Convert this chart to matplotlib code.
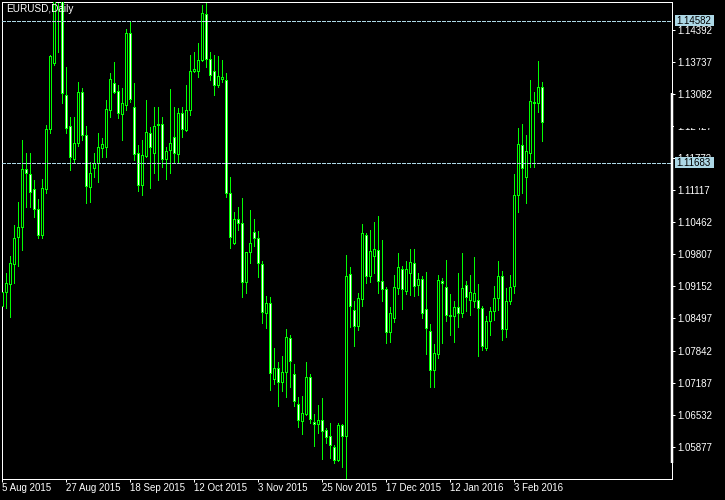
import matplotlib
matplotlib.use("Agg")
import matplotlib.pyplot as plt
from matplotlib.patches import Rectangle
from matplotlib.transforms import blended_transform_factory

# ---------------- data (EURUSD daily) ----------------
opens = [
    1.0875, 1.0904, 1.0920, 1.0961, 1.1016, 1.1036, 1.1155, 1.1145, 1.1114, 1.1073,
    1.1020, 1.1114, 1.1237, 1.1371, 1.1616, 1.1517, 1.1306, 1.1243, 1.1175, 1.1208,
    1.1312, 1.1224, 1.1118, 1.1157, 1.1167, 1.1198, 1.1200, 1.1275, 1.1330, 1.1314,
    1.1267, 1.1286, 1.1433, 1.1281, 1.1188, 1.1122, 1.1182, 1.1228, 1.1188, 1.1245,
    1.1247, 1.1175, 1.1194, 1.1220, 1.1186, 1.1269, 1.1235, 1.1275, 1.1355, 1.1355,
    1.1377, 1.1471, 1.1380, 1.1355, 1.1326, 1.1339, 1.1337, 1.1106, 1.1004, 1.1053,
    1.1045, 1.0925, 1.0985, 1.1026, 1.1014, 1.0961, 1.0861, 1.0881, 1.0726, 1.0749,
    1.0720, 1.0740, 1.0810, 1.0736, 1.0675, 1.0640, 1.0655, 1.0730, 1.0638, 1.0634,
    1.0642, 1.0622, 1.0610, 1.0587, 1.0561, 1.0632, 1.0610, 1.0941, 1.0867, 1.0834,
    1.0889, 1.1020, 1.0936, 1.0977, 1.0989, 1.0926, 1.0910, 1.0822, 1.0851, 1.0912,
    1.0951, 1.0906, 1.0943, 1.0963, 1.0918, 1.0930, 1.0869, 1.0824, 1.0744, 1.0777,
    1.0926, 1.0914, 1.0857, 1.0855, 1.0873, 1.0861, 1.0918, 1.0887, 1.0886, 1.0887,
    1.0871, 1.0790, 1.0845, 1.0865, 1.0892, 1.0937, 1.0828, 1.0885, 1.0916, 1.1102,
    1.1204, 1.1139, 1.1188, 1.1292, 1.1290, 1.1322,
]
highs = [
    1.0908, 1.0943, 1.0977, 1.1041, 1.1088, 1.1214, 1.1188, 1.1188, 1.1132, 1.1094,
    1.1134, 1.1245, 1.1388, 1.1714, 1.1650, 1.1560, 1.1363, 1.1261, 1.1261, 1.1333,
    1.1320, 1.1243, 1.1169, 1.1188, 1.1228, 1.1218, 1.1296, 1.1351, 1.1373, 1.1326,
    1.1320, 1.1441, 1.1457, 1.1330, 1.1204, 1.1214, 1.1296, 1.1241, 1.1281, 1.1281,
    1.1261, 1.1200, 1.1318, 1.1281, 1.1279, 1.1281, 1.1326, 1.1388, 1.1394, 1.1412,
    1.1490, 1.1494, 1.1394, 1.1388, 1.1386, 1.1377, 1.1351, 1.1139, 1.1067, 1.1077,
    1.1096, 1.0985, 1.1071, 1.1053, 1.1028, 1.0967, 1.0896, 1.0894, 1.0789, 1.0761,
    1.0773, 1.0828, 1.0816, 1.0757, 1.0689, 1.0691, 1.0761, 1.0736, 1.0655, 1.0673,
    1.0687, 1.0626, 1.0636, 1.0591, 1.0636, 1.0634, 1.0979, 1.0955, 1.0885, 1.0902,
    1.1043, 1.1024, 1.1030, 1.1047, 1.1059, 1.1010, 1.0914, 1.0873, 1.0938, 1.0983,
    1.0957, 1.0967, 1.0992, 1.0992, 1.0943, 1.0936, 1.0945, 1.0838, 1.0798, 1.0939,
    1.0932, 1.0969, 1.0900, 1.0885, 1.0943, 1.0983, 1.0926, 1.0939, 1.0975, 1.0920,
    1.0875, 1.0855, 1.0873, 1.0916, 1.0967, 1.0947, 1.0912, 1.0939, 1.1145, 1.1239,
    1.1247, 1.1224, 1.1337, 1.1312, 1.1375, 1.1333,
]
lows = [
    1.0871, 1.0871, 1.0853, 1.0922, 1.0957, 1.0990, 1.1077, 1.1077, 1.1057, 1.1014,
    1.1014, 1.1106, 1.1228, 1.1367, 1.1395, 1.1290, 1.1228, 1.1153, 1.1167, 1.1202,
    1.1214, 1.1085, 1.1088, 1.1139, 1.1128, 1.1179, 1.1179, 1.1261, 1.1311, 1.1259,
    1.1214, 1.1275, 1.1292, 1.1173, 1.1110, 1.1102, 1.1180, 1.1116, 1.1147, 1.1132,
    1.1159, 1.1134, 1.1147, 1.1169, 1.1169, 1.1220, 1.1233, 1.1265, 1.1353, 1.1343,
    1.1375, 1.1363, 1.1337, 1.1306, 1.1322, 1.1333, 1.1098, 1.0994, 1.1002, 1.1030,
    1.0894, 1.0902, 1.0963, 1.0998, 1.0934, 1.0840, 1.0830, 1.0704, 1.0716, 1.0671,
    1.0702, 1.0689, 1.0710, 1.0671, 1.0628, 1.0614, 1.0653, 1.0636, 1.0589, 1.0616,
    1.0563, 1.0595, 1.0565, 1.0555, 1.0559, 1.0546, 1.0524, 1.0832, 1.0793, 1.0826,
    1.0875, 1.0922, 1.0924, 1.0943, 1.0902, 1.0885, 1.0800, 1.0802, 1.0843, 1.0900,
    1.0869, 1.0900, 1.0898, 1.0896, 1.0898, 1.0851, 1.0777, 1.0710, 1.0710, 1.0769,
    1.0800, 1.0845, 1.0816, 1.0802, 1.0832, 1.0853, 1.0865, 1.0857, 1.0873, 1.0773,
    1.0785, 1.0785, 1.0816, 1.0847, 1.0867, 1.0806, 1.0812, 1.0879, 1.0902, 1.1067,
    1.1106, 1.1085, 1.1159, 1.1159, 1.1271, 1.1212,
]
closes = [
    1.0904, 1.0922, 1.0963, 1.1014, 1.1036, 1.1155, 1.1147, 1.1108, 1.1073, 1.1020,
    1.1116, 1.1237, 1.1386, 1.1616, 1.1517, 1.1311, 1.1239, 1.1179, 1.1208, 1.1312,
    1.1224, 1.1120, 1.1147, 1.1167, 1.1200, 1.1206, 1.1277, 1.1339, 1.1313, 1.1269,
    1.1290, 1.1433, 1.1298, 1.1186, 1.1122, 1.1184, 1.1231, 1.1200, 1.1243, 1.1247,
    1.1175, 1.1192, 1.1208, 1.1188, 1.1269, 1.1237, 1.1275, 1.1355, 1.1359, 1.1377,
    1.1473, 1.1379, 1.1347, 1.1326, 1.1345, 1.1343, 1.1106, 1.1016, 1.1053, 1.1045,
    1.0924, 1.0985, 1.1004, 1.1014, 1.0963, 1.0863, 1.0881, 1.0738, 1.0749, 1.0720,
    1.0740, 1.0812, 1.0763, 1.0681, 1.0642, 1.0657, 1.0730, 1.0644, 1.0634, 1.0642,
    1.0620, 1.0608, 1.0591, 1.0561, 1.0632, 1.0610, 1.0937, 1.0875, 1.0834, 1.0891,
    1.1024, 1.0936, 1.0987, 1.0992, 1.0927, 1.0910, 1.0822, 1.0861, 1.0914, 1.0955,
    1.0910, 1.0951, 1.0965, 1.0916, 1.0930, 1.0861, 1.0830, 1.0744, 1.0779, 1.0928,
    1.0922, 1.0857, 1.0855, 1.0873, 1.0861, 1.0912, 1.0894, 1.0904, 1.0902, 1.0871,
    1.0794, 1.0845, 1.0865, 1.0892, 1.0937, 1.0828, 1.0885, 1.0914, 1.1102, 1.1206,
    1.1157, 1.1192, 1.1294, 1.1289, 1.1322, 1.1251,
]

date_tick_index = [0, 16, 32, 48, 64, 80, 96, 112, 128]
date_tick_labels = ["5 Aug 2015", "27 Aug 2015", "18 Sep 2015", "12 Oct 2015",
                    "3 Nov 2015", "25 Nov 2015", "17 Dec 2015", "12 Jan 2016",
                    "3 Feb 2016"]
price_ticks = [1.05877, 1.06532, 1.07187, 1.07842, 1.08497, 1.09152, 1.09807,
               1.10462, 1.11117, 1.11772, 1.12427, 1.13082, 1.13737, 1.14392]
price_lines = [1.14582, 1.11683]
title = "EURUSD,Daily"

# ---------------- styling ----------------
W, H = 725, 500
PX = 72.0 / 100.0           # one pixel in points
GREEN = "#00ff00"
LBLUE = "#add8e6"
FONT = "Liberation Sans"
plt.rcParams["lines.scale_dashes"] = False

fig = plt.figure(figsize=(W / 100, H / 100), dpi=100, facecolor="black")
ax = fig.add_axes([2 / W, 21 / H, 670 / W, 477 / H], facecolor="black")

y_lo, y_hi = 1.05217, 1.14964
dp = (y_hi - y_lo) / 477.0   # price per pixel
ax.set_xlim(-0.075, -0.075 + 670 / 4.0)
ax.set_ylim(y_lo, y_hi)

# candles
for i, (o, h, l, c) in enumerate(zip(opens, highs, lows, closes)):
    ax.vlines(i, l, h, color=GREEN, lw=PX, antialiased=False, zorder=2)
    bottom = min(o, c)
    height = max(abs(c - o), dp * 0.3)
    face = "white" if c < o else "black"
    ax.add_patch(Rectangle((i - 0.25, bottom), 0.5, height, facecolor=face,
                           edgecolor=GREEN, lw=PX, antialiased=False, zorder=3))

# dashed price lines
for p in price_lines:
    ax.axhline(p, color=LBLUE, lw=PX, dashes=(3 * PX, 2 * PX),
               antialiased=False, zorder=4)

# spines & ticks
for s in ax.spines.values():
    s.set_color("white")
    s.set_linewidth(PX)
ax.yaxis.tick_right()
ax.set_yticks(price_ticks)
ax.set_yticklabels([f"{v:.5f}" for v in price_ticks], fontfamily=FONT)
ax.set_xticks(date_tick_index)
ax.set_xticklabels(date_tick_labels, fontfamily=FONT)
for lab in ax.get_xticklabels():
    lab.set_ha("left")
ax.tick_params(axis="both", colors="white", labelcolor="white", labelsize=7,
               length=3 * PX, width=PX, direction="out")
ax.tick_params(axis="y", pad=1.5)
ax.tick_params(axis="x", pad=1.0)

trans = blended_transform_factory(fig.transFigure, ax.transData)

# hidden label overlay (partly covered scale label)
y127 = y_hi - (127.5 - 2) * dp
ax.add_artist(Rectangle((674 / W, y127), 44 / W, 10.5 * dp, transform=trans,
                        facecolor="black", edgecolor="none", clip_on=False,
                        zorder=9))

# highlighted price labels
for p in price_lines:
    ax.add_artist(Rectangle((675 / W, p - 5.5 * dp), 39 / W, 11 * dp,
                            transform=trans, facecolor=LBLUE, edgecolor="none",
                            clip_on=False, zorder=10))
    ax.text(676.5 / W, p, f"{p:.5f}", transform=trans, color="black",
            fontsize=7, fontfamily=FONT, va="center", ha="left",
            clip_on=False, zorder=11)

# thick scroll marker on the right border
tr2 = blended_transform_factory(ax.transAxes, ax.transData)
ax.plot([1.0, 1.0], [y_hi - (93 - 2) * dp, y_hi - (463 - 2) * dp],
        transform=tr2, color="white", lw=2.5 * PX, clip_on=False,
        solid_capstyle="butt", zorder=8)

# title
ax.text(4.5 / 670, 1 - 2.5 / 477, title, transform=ax.transAxes, color="white",
        fontsize=7.2, fontfamily=FONT, va="top", ha="left", zorder=12)

fig.savefig("out.png", dpi=100, facecolor="black")
